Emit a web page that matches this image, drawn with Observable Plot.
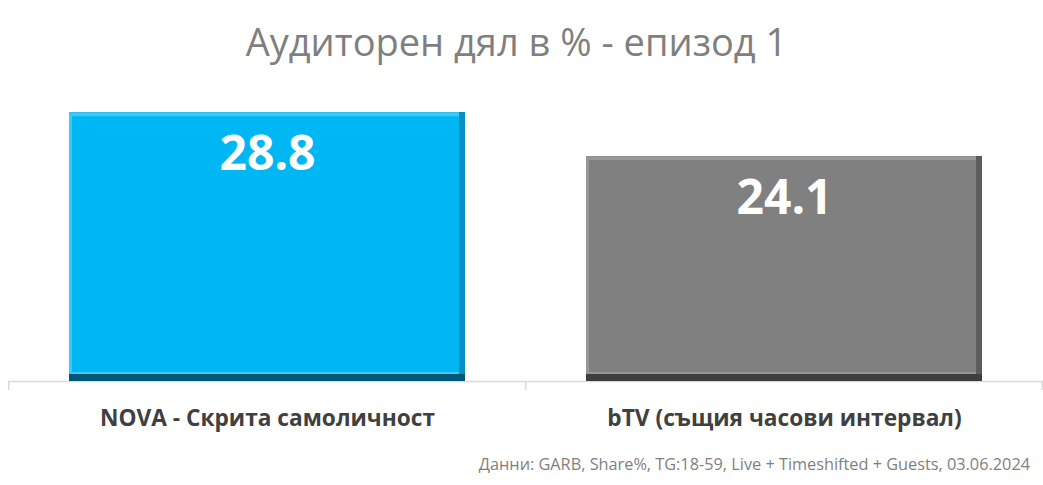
<!DOCTYPE html>
<html>
<head>
<meta charset="utf-8">
<script src="https://cdn.jsdelivr.net/npm/d3@7"></script>
<script src="https://cdn.jsdelivr.net/npm/@observablehq/plot@0.6"></script>
<style>
  html, body { margin: 0; padding: 0; background: #fff; width: 1043px; height: 485px; overflow: hidden; }
  #title { height: 80px; line-height: 82px; text-align: center; font-family: "Open Sans", sans-serif; font-size: 38px; color: #7f7f7f; padding-right: 10px; }
  #caption { text-align: right; padding-right: 13px; font-family: "Open Sans", sans-serif; font-size: 16.3px; color: #7f7f7f; margin-top: 3px; }
  #chart svg { display: block; }
</style>
</head>
<body>
<div id="title">Аудиторен дял в % - епизод 1</div>
<div id="chart"></div>
<div id="caption">Данни: GARB, Share%, TG:18-59, Live + Timeshifted + Guests, 03.06.2024</div>
<script>
const categories = ["NOVA - Скрита самоличност", "bTV (същия часови интервал)"];
const values = [28.8, 24.1];
const labels = ["28.8", "24.1"];
const fills = ["#00b7f4", "#808080"];
const lightEdges = ["#3dc8f6", "#979797"];
const darkEdges = ["#005878", "#3e3e3e"];
const sideEdges = ["#0790c0", "#5c5c5c"];

const data = categories.map((c, i) => ({
  cat: c, value: values[i], label: labels[i],
  fill: fills[i], light: lightEdges[i], dark: darkEdges[i], side: sideEdges[i]
}));

const width = 1043;
const step = (width - 8) / 2;

const chart = Plot.plot({
  width,
  height: 370,
  marginLeft: 8,
  marginRight: 0,
  marginTop: 21,
  marginBottom: 69,
  x: { domain: categories, paddingInner: 0.235, paddingOuter: 0.1175, label: null },
  y: { domain: [0, 30], axis: null },
  style: { fontFamily: "'Open Sans', sans-serif", background: "#fff" },
  marks: [
    Plot.ruleY([0], { stroke: "#d9d9d9", strokeWidth: 1.5 }),
    Plot.ruleX(data, { x: "cat", y1: 0, y2: 0, dx: -step / 2, insetBottom: -9, stroke: "#d9d9d9", strokeWidth: 1.5 }),
    Plot.ruleX(data.slice(-1), { x: "cat", y1: 0, y2: 0, dx: step / 2 - 1, insetBottom: -9, stroke: "#d9d9d9", strokeWidth: 1.5 }),
    // bevel layers
    Plot.barY(data, { x: "cat", y: "value", fill: "dark" }),
    Plot.barY(data, { x: "cat", y: "value", fill: "side", insetBottom: 7 }),
    Plot.barY(data, { x: "cat", y: "value", fill: "light", insetBottom: 7, insetRight: 6 }),
    Plot.barY(data, { x: "cat", y: "value", fill: "fill", insetBottom: 9, insetRight: 6, insetTop: 4, insetLeft: 3 }),
    Plot.text(data, { x: "cat", y: "value", text: "label", dy: 42, fill: "white", fontSize: 48, fontWeight: "bold" }),
    Plot.axisX({ tickSize: 0, tickPadding: 28, fontSize: 22.7, fontWeight: "bold", color: "#404040", label: null })
  ]
});
document.getElementById("chart").append(chart);
</script>
</body>
</html>
